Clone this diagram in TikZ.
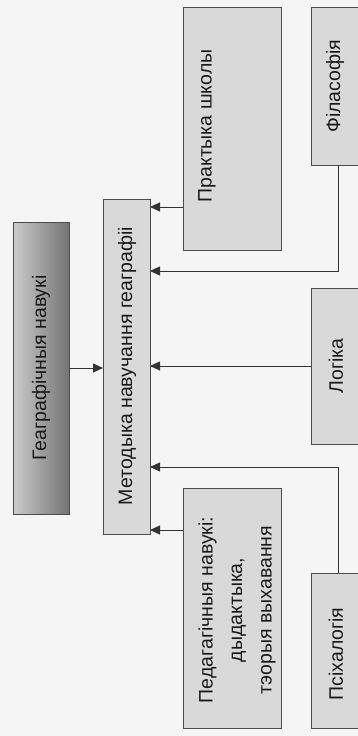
\documentclass[tikz,border=0pt]{standalone}
\usepackage{fontspec}
\setmainfont{Liberation Sans}
\usetikzlibrary{arrows.meta}
\begin{document}
\begin{tikzpicture}[x=1pt,y=-1pt,
  box/.style={draw=black!70, line width=0.7pt, fill=black!15, inner sep=0pt, outer sep=0pt, anchor=north west},
  lbl/.style={rotate=90, font=\fontsize{19.5}{29.5}\selectfont, text=black!90, align=center, inner sep=0pt},
  arr/.style={-{Triangle[length=10pt,width=9pt]}, line width=0.9pt, draw=black!80}]
\fill[black!4] (0,0) rectangle (358,736);
\clip (0,0) rectangle (358,736);
% boxes
\node[box, left color=black!20, right color=black!55, minimum width=56pt, minimum height=292pt] (geo) at (13,222) {};
\node[box, minimum width=47pt, minimum height=335pt] (met) at (103,199) {};
\node[box, minimum width=98pt, minimum height=243pt] (prak) at (183,7) {};
\node[box, minimum width=54pt, minimum height=158pt] (fil) at (311,7) {};
\node[box, minimum width=54pt, minimum height=156pt] (log) at (311,288) {};
\node[box, minimum width=98pt, minimum height=240pt] (ped) at (183,488) {};
\node[box, minimum width=54pt, minimum height=155pt] (psi) at (311,573) {};
% texts
\node[lbl] (tgeo) at (41,368) {Геаграфічныя навукі};
\node[lbl] (tmet) at (127,366) {Методыка навучання геаграфіі};
\node[lbl] (tprak) at (207,126) {Практыка школы};
\node[lbl] (tfil) at (335,86) {Філасофія};
\node[lbl] (tlog) at (336,366) {Логіка};
\node[lbl] (tped) at (237,610) {Педагагічныя навукі:\\дыдактыка,\\тэорыя выхавання};
\node[lbl] (tpsi) at (336,654) {Псіхалогія};
% connectors
\coordinate (pa) at (183,207);
\coordinate (fa) at (338,271);
\coordinate (pb) at (338,467);
\coordinate (pc) at (183,530);
\draw[arr] (geo.east) -- (geo.east -| met.west);
\draw[arr] (log.west) -- (log.west -| met.east);
\draw[arr] (prak.west |- pa) -- (pa -| met.east);
\draw[arr] (ped.west |- pc) -- (pc -| met.east);
\draw[arr] (fil.south) -- (fa) -- (fa -| met.east);
\draw[arr] (psi.north) -- (pb) -- (pb -| met.east);
\end{tikzpicture}
\end{document}
